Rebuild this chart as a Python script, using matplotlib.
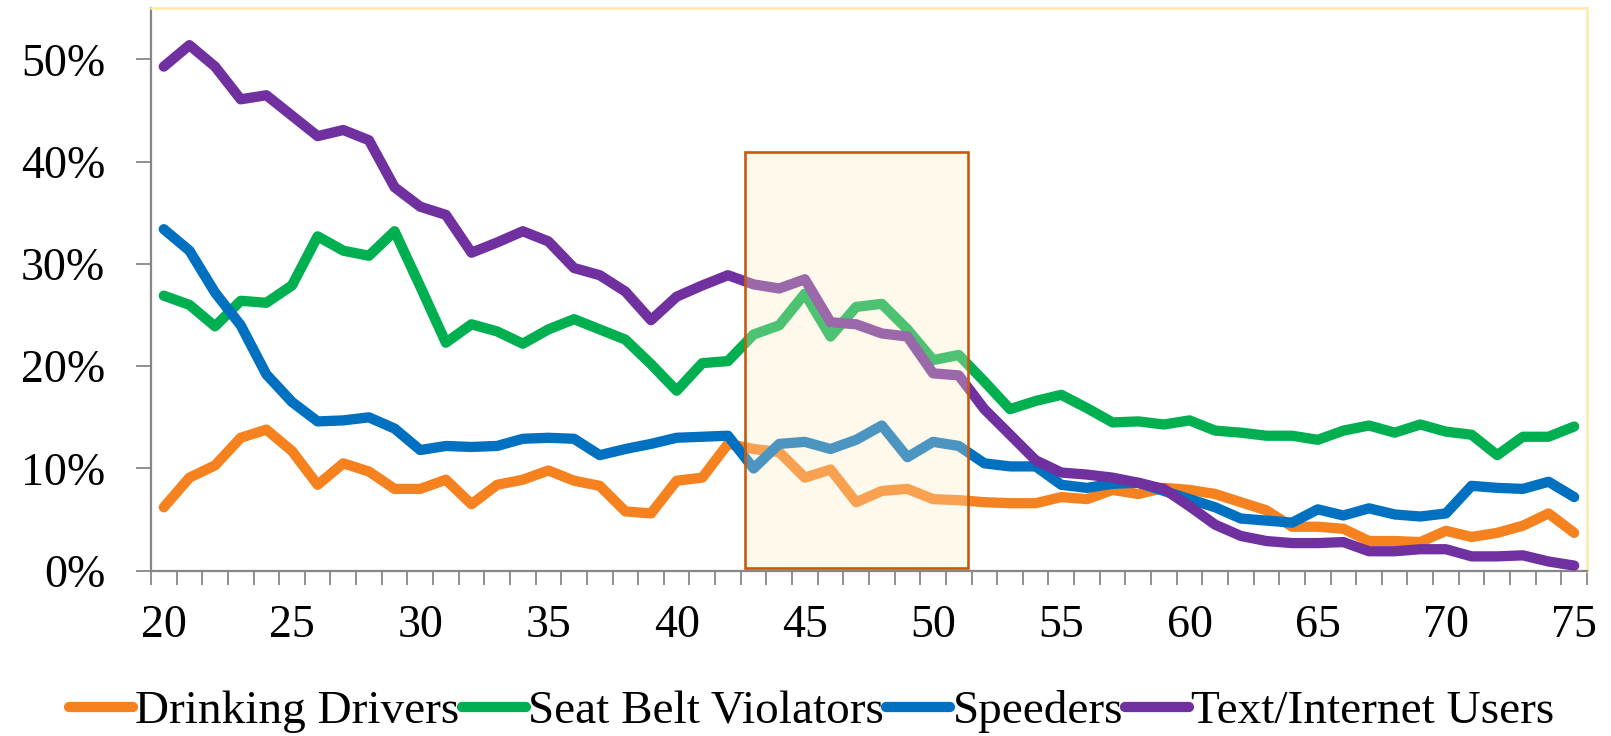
import matplotlib
matplotlib.use("Agg")
import matplotlib.pyplot as plt
from matplotlib.patches import Rectangle
from matplotlib.ticker import FuncFormatter, MultipleLocator

plt.rcParams["font.family"] = ["Liberation Serif", "DejaVu Serif"]

# ── data (percent of drivers, by age) ─────────────────────────────
ages = list(range(20, 76))
drinking = [6.2, 9.1, 10.3, 13.0, 13.8, 11.7, 8.4, 10.5, 9.7, 8.0,
            8.0, 8.9, 6.5, 8.4, 8.9, 9.8, 8.8, 8.3, 5.8, 5.6,
            8.8, 9.1, 12.4, 11.9, 11.6, 9.1, 9.9, 6.7, 7.8, 8.0,
            7.0, 6.9, 6.7, 6.6, 6.6, 7.2, 7.0, 7.9, 7.5, 8.1,
            7.9, 7.5, 6.7, 5.9, 4.3, 4.3, 4.1, 2.9, 2.9, 2.8,
            3.9, 3.3, 3.7, 4.4, 5.6, 3.7]
seatbelt = [26.9, 26.0, 23.9, 26.4, 26.2, 27.9, 32.7, 31.3, 30.8, 33.2,
            27.8, 22.3, 24.1, 23.4, 22.2, 23.6, 24.6, 23.6, 22.6, 20.2,
            17.6, 20.3, 20.5, 23.1, 24.0, 27.1, 22.9, 25.8, 26.1, 23.6,
            20.6, 21.1, 18.5, 15.8, 16.6, 17.2, 15.9, 14.5, 14.6, 14.3,
            14.7, 13.7, 13.5, 13.2, 13.2, 12.8, 13.7, 14.2, 13.5, 14.3,
            13.6, 13.3, 11.3, 13.1, 13.1, 14.1]
speeders = [33.4, 31.3, 27.2, 24.0, 19.2, 16.5, 14.6, 14.7, 15.0, 13.9,
            11.8, 12.2, 12.1, 12.2, 12.9, 13.0, 12.9, 11.3, 11.9, 12.4,
            13.0, 13.1, 13.2, 10.0, 12.4, 12.6, 11.9, 12.8, 14.2, 11.1,
            12.6, 12.2, 10.5, 10.2, 10.2, 8.4, 8.1, 8.5, 8.6, 7.8,
            7.0, 6.2, 5.1, 4.9, 4.7, 6.0, 5.4, 6.1, 5.5, 5.3,
            5.6, 8.3, 8.1, 8.0, 8.7, 7.2]
texting = [49.3, 51.4, 49.3, 46.1, 46.5, 44.5, 42.5, 43.1, 42.1, 37.5,
           35.6, 34.8, 31.1, 32.1, 33.2, 32.2, 29.6, 28.9, 27.3, 24.5,
           26.8, 27.9, 28.9, 28.0, 27.6, 28.5, 24.3, 24.1, 23.2, 22.9,
           19.3, 19.1, 15.8, 13.3, 10.8, 9.6, 9.4, 9.1, 8.6, 8.0,
           6.3, 4.5, 3.4, 2.9, 2.7, 2.7, 2.8, 1.9, 1.9, 2.1,
           2.1, 1.4, 1.4, 1.5, 0.9, 0.5]
series_names = ["Drinking Drivers", "Seat Belt Violators", "Speeders", "Text/Internet Users"]
series_colors = ["#F5821F", "#00B050", "#0070C0", "#7030A0"]
# highlighted age band (shaded box)
box_ages = (42.65, 51.38)
box_pct = (0.25, 40.9)

fig = plt.figure(figsize=(16.11, 7.36), dpi=100)
ax = fig.add_axes([0.0937, 0.2246, 0.8914, 0.7641])

for vals, name, col in zip([drinking, seatbelt, speeders, texting],
                           series_names, series_colors):
    ax.plot(ages, vals, color=col, lw=7.4, label=name,
            solid_capstyle="round", solid_joinstyle="round", zorder=3)

# shaded box on top of the lines
ax.add_patch(Rectangle((box_ages[0], box_pct[0]), box_ages[1] - box_ages[0],
                       box_pct[1] - box_pct[0], facecolor=(1.0, 0.925, 0.765, 0.3),
                       edgecolor="#C55A11", lw=1.9, zorder=5))

ax.set_xlim(19.5, 75.5)
ax.set_ylim(0, 55)

ax.yaxis.set_major_locator(MultipleLocator(10))
ax.yaxis.set_major_formatter(FuncFormatter(lambda v, p: f"{v:.0f}%"))
ax.tick_params(axis="y", length=10.8, width=1.3, color="#878787",
               labelsize=33, pad=22)

ax.set_xticks(range(20, 76, 5))
ax.set_xticks([a - 0.5 for a in ages] + [75.5], minor=True)
ax.tick_params(axis="x", which="major", length=0, labelsize=33, pad=24)
ax.tick_params(axis="x", which="minor", length=10, width=1.3, color="#878787",
               direction="out")

for s in ("left", "bottom"):
    ax.spines[s].set_color("#878787")
    ax.spines[s].set_linewidth(1.6)
for s in ("top", "right"):
    ax.spines[s].set_color("#FFE9A8")
    ax.spines[s].set_linewidth(1.8)

fig.legend(loc="center", bbox_to_anchor=(0.504, 0.033), ncol=4, frameon=False,
           fontsize=34, handlelength=1.35, handletextpad=0.05, columnspacing=0.05,
           borderaxespad=0)

fig.savefig("out.png", dpi=100, facecolor="white")
